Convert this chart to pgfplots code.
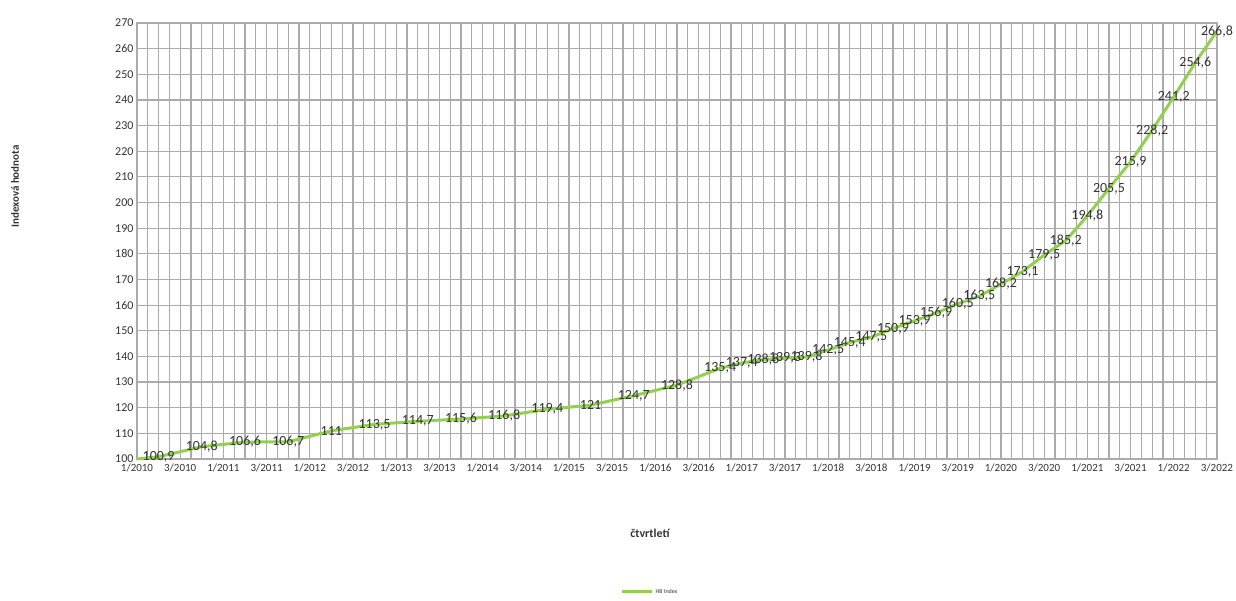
\documentclass[border=0pt]{standalone}
\usepackage{fontspec}
\setmainfont{Carlito}
\usepackage{pgfplots}
\pgfplotsset{compat=1.18}
\usepackage{pgfplotstable}
\definecolor{hbgreen}{HTML}{92D050}
\definecolor{gridgray}{HTML}{ABABAB}
\definecolor{txt}{HTML}{333333}
\pgfplotstableread{
q val lab
0 100.0 {}
1 100.9 {100,9}
3 104.8 {104,8}
5 106.6 {106,6}
7 106.7 {106,7}
9 111.0 {111}
11 113.5 {113,5}
13 114.7 {114,7}
15 115.6 {115,6}
17 116.8 {116,8}
19 119.4 {119,4}
21 121.0 {121}
23 124.7 {124,7}
25 128.8 {128,8}
27 135.4 {135,4}
28 137.4 {137,4}
29 138.8 {138,8}
30 139.3 {139,3}
31 139.8 {139,8}
32 142.5 {142,5}
33 145.4 {145,4}
34 147.5 {147,5}
35 150.9 {150,9}
36 153.9 {153,9}
37 156.9 {156,9}
38 160.5 {160,5}
39 163.5 {163,5}
40 168.2 {168,2}
41 173.1 {173,1}
42 179.5 {179,5}
43 185.2 {185,2}
44 194.8 {194,8}
45 205.5 {205,5}
46 215.9 {215,9}
47 228.2 {228,2}
48 241.2 {241,2}
49 254.6 {254,6}
50 266.8 {266,8}
}\hbdata
\begin{document}
\begin{tikzpicture}
\begin{axis}[
  at={(0pt,0pt)}, anchor=south west,
  scale only axis, width=1080pt, height=436pt,
  xmin=0, xmax=50, ymin=100, ymax=270,
  ytick={100,110,...,270},
  xtick={0,2,...,50},
  xticklabels={1/2010,3/2010,1/2011,3/2011,1/2012,3/2012,1/2013,3/2013,1/2014,3/2014,1/2015,3/2015,1/2016,3/2016,1/2017,3/2017,1/2018,3/2018,1/2019,3/2019,1/2020,3/2020,1/2021,3/2021,1/2022,3/2022},
  minor xtick={0,0.5,...,50},
  xmajorgrids=false, xminorgrids=true, ymajorgrids=true,
  major grid style={gridgray, line width=1.2pt},
  minor grid style={gridgray, line width=1.2pt},
  axis line style={gridgray, line width=1.2pt},
  tick style={draw=none},
  yticklabel style={font=\fontsize{12}{14}\selectfont, text=txt},
  xticklabel style={font=\fontsize{11}{13}\selectfont, text=txt, yshift=-1pt},
  /pgf/number format/assume math mode=true,
  clip=false,
  xlabel={\bfseries čtvrtletí},
  xlabel style={font=\fontsize{12}{14}\selectfont, text=txt, at={(axis description cs:0.475,-0.17)}, anchor=center},
  ylabel={\bfseries Indexová hodnota},
  ylabel style={font=\fontsize{11}{13}\selectfont, text=txt, at={(axis description cs:-0.113,0.625)}, anchor=center},
  legend style={at={(axis description cs:0.475,-0.305)}, anchor=center, draw=none, fill=none, font=\fontsize{6}{7}\selectfont, text=txt},
  legend image code/.code={\draw[#1] (0pt,0pt) -- (30pt,0pt);},
]
\addplot[hbgreen, line width=3pt, line join=round,
  nodes near coords, point meta=explicit symbolic,
  every node near coord/.style={anchor=center, font=\fontsize{14}{16}\selectfont, text=txt, inner sep=1pt}]
  table[x=q, y=val, meta=lab]{\hbdata};
\addlegendentry{HB Index}
\end{axis}
\pgfresetboundingbox
\path[use as bounding box] (-137pt,-142pt) rectangle (1099pt,459pt);
\end{tikzpicture}
\end{document}
